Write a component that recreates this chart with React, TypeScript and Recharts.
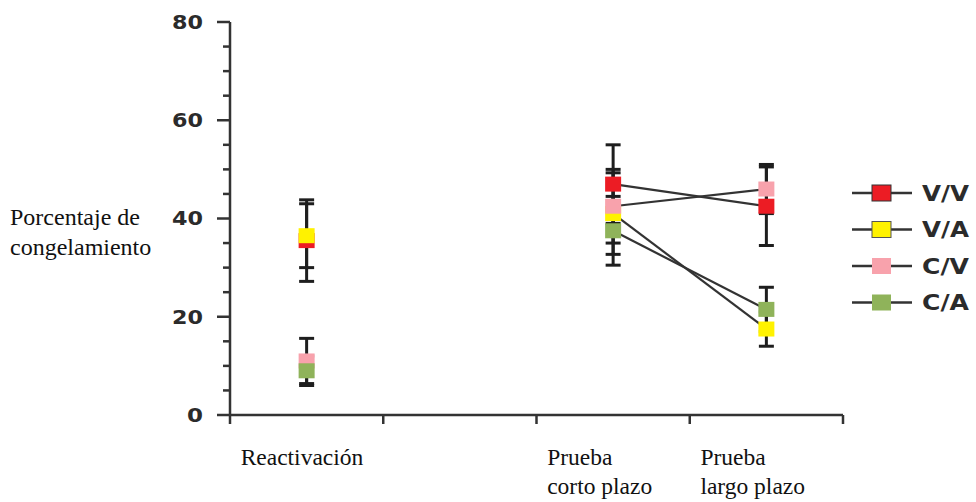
import React from 'react'
import { ComposedChart, Line, XAxis, YAxis, ErrorBar, Legend } from 'recharts'

// Porcentaje de congelamiento por grupo y fase
const categories = ['Reactivación', '', 'Prueba corto plazo', 'Prueba largo plazo']
const tickLabelLines = [['Reactivación'], [], ['Prueba', 'corto plazo'], ['Prueba', 'largo plazo']]

const vv = [35.5, null, 47, 42.5]
const vvErr = [8.3, null, 8, 8]
const va = [36.5, null, 41, 17.5]
const vaErr = [6.5, null, 8.3, 3.5]
const cv = [11, null, 42.5, 46]
const cvErr = [4.6, null, 7.5, 5]
const ca = [9, null, 37.5, 21.5]
const caErr = [3, null, 7, 4.5]

const yTicks = [0, 5, 10, 15, 20, 25, 30, 35, 40, 45, 50, 55, 60, 65, 70, 75, 80]

const series = [
    { key: 'vv', name: 'V/V', color: '#ec1c24', border: '#333' },
    { key: 'va', name: 'V/A', color: '#fff200', border: '#555' },
    { key: 'cv', name: 'C/V', color: '#f8a2ac', border: 'none' },
    { key: 'ca', name: 'C/A', color: '#8fb35a', border: 'none' },
]

const data = categories.map((cat, i) => ({
    cat,
    vv: vv[i], vvErr: vvErr[i],
    va: va[i], vaErr: vaErr[i],
    cv: cv[i], cvErr: cvErr[i],
    ca: ca[i], caErr: caErr[i],
}))

const AXIS = '#333'
const serif = '"Liberation Serif", "Times New Roman", serif'
const sans = '"DejaVu Sans", Arial, sans-serif'

const squareDot = (color: string) => (props: any) => {
    const { cx, cy, index } = props
    if (cx == null || cy == null || isNaN(cy)) return <g key={index} />
    return <rect key={index} x={cx - 8} y={cy - 7.5} width={16} height={15} fill={color} />
}

function YTick(props: any) {
    const { x, y, payload } = props
    const major = payload.value % 20 === 0
    const label = String(payload.value)
    return (
        <g>
            <line x1={x - (major ? 13 : 7)} x2={x} y1={y} y2={y} stroke={AXIS} strokeWidth={2.5} />
            {major && (
                <text x={x - 27} y={y} dy="0.36em" textAnchor="end" fontFamily={sans} fontWeight="bold"
                    fontSize={19} fill="#2b2b2b" textLength={label.length > 1 ? 31 : 16} lengthAdjust="spacingAndGlyphs">
                    {label}
                </text>
            )}
        </g>
    )
}

function XTick(props: any) {
    const { x, y, payload, index } = props
    const half = payload.offset ?? 0
    const lines = tickLabelLines[index] ?? []
    return (
        <g>
            <line x1={x - half} x2={x - half} y1={y} y2={y + 9} stroke={AXIS} strokeWidth={2.5} />
            {index === categories.length - 1 && (
                <line x1={x + half} x2={x + half} y1={y} y2={y + 9} stroke={AXIS} strokeWidth={2.5} />
            )}
            {lines.map((t, i) => (
                <text key={i} x={x - 66} y={y + 50 + i * 29} fontFamily={serif} fontSize={23.5} fill="#111">
                    {t}
                </text>
            ))}
        </g>
    )
}

function LegendBox() {
    return (
        <svg width={126} height={150}>
            {series.map((s, i) => {
                const cy = 18 + i * 36.5
                return (
                    <g key={s.key}>
                        <line x1={4} x2={64} y1={cy} y2={cy} stroke="#333" strokeWidth={2.5} />
                        <rect x={24} y={cy - 8} width={19} height={16} fill={s.color}
                            stroke={s.border} strokeWidth={1} />
                        <text x={74} y={cy} dy="0.36em" fontFamily={sans} fontWeight="bold" fontSize={21}
                            fill="#2b2b2b" textLength={47} lengthAdjust="spacingAndGlyphs">
                            {s.name}
                        </text>
                    </g>
                )
            })}
        </svg>
    )
}

export default function App() {
    return (
        <div style={{ position: 'absolute', left: 0, top: 0, width: 976, height: 502, background: '#fff' }}>
            <div style={{
                position: 'absolute', left: 10, top: 202, fontFamily: serif, fontSize: 24,
                lineHeight: '30px', color: '#111', whiteSpace: 'nowrap',
            }}>
                Porcentaje de<br />congelamiento
            </div>
            <ComposedChart width={976} height={502} data={data}
                margin={{ top: 22, right: 133, bottom: 0, left: 0 }}>
                <XAxis
                    dataKey="cat"
                    scale="band"
                    interval={0}
                    height={87}
                    tickSize={0}
                    tickMargin={0}
                    tickLine={false}
                    axisLine={{ stroke: AXIS, strokeWidth: 2.5 }}
                    tick={<XTick />}
                />
                <YAxis
                    domain={[0, 80]}
                    ticks={yTicks}
                    interval={0}
                    width={230}
                    tickSize={0}
                    tickMargin={0}
                    tickLine={false}
                    axisLine={{ stroke: AXIS, strokeWidth: 2.5 }}
                    tick={<YTick />}
                />
                <Legend
                    layout="vertical"
                    align="center"
                    verticalAlign="middle"
                    content={() => <LegendBox />}
                    wrapperStyle={{ position: 'absolute', left: 848, top: 175, width: 126 }}
                />
                {series.map(s => (
                    <Line
                        key={s.key}
                        dataKey={s.key}
                        name={s.name}
                        stroke="#333"
                        strokeWidth={2.2}
                        connectNulls={false}
                        dot={squareDot(s.color)}
                        activeDot={false}
                        isAnimationActive={false}
                    >
                        <ErrorBar dataKey={`${s.key}Err`} direction="y" width={7.5} stroke="#1e1e1e" strokeWidth={3} />
                    </Line>
                ))}
            </ComposedChart>
        </div>
    )
}
